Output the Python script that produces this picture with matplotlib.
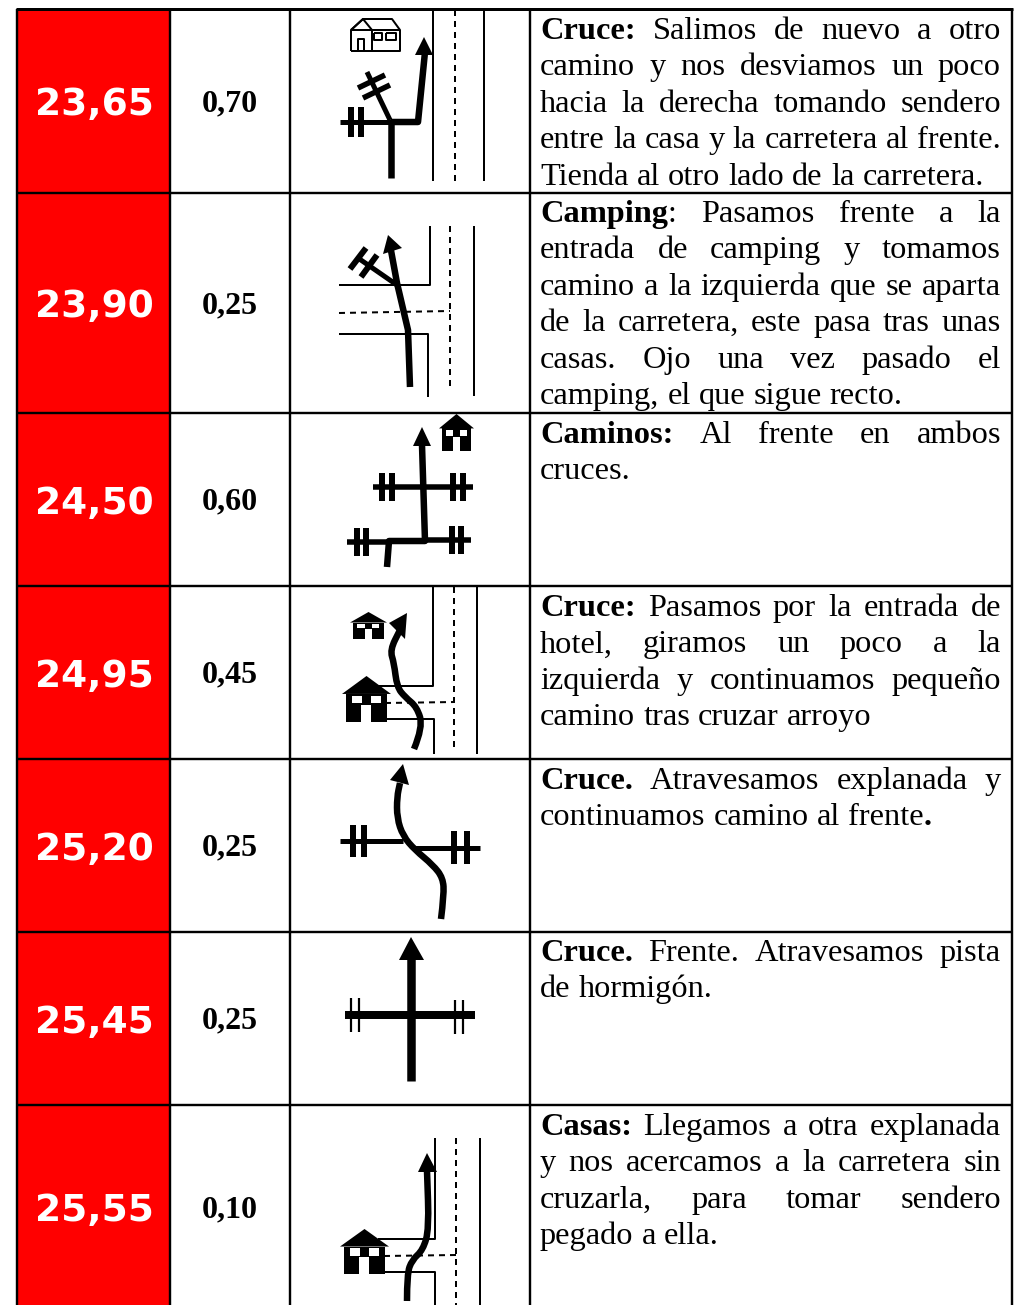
import re
import matplotlib
matplotlib.use("Agg")
import matplotlib.pyplot as plt
from matplotlib.patches import Rectangle, Polygon, PathPatch
from matplotlib.path import Path

# Table contents
km_total = ["23,65", "23,90", "24,50", "24,95", "25,20", "25,45", "25,55"]
km_partial = ["0,70", "0,25", "0,60", "0,45", "0,25", "0,25", "0,10"]

# <...> marks bold text, the last line of each cell is not justified
descriptions = [
    ["<Cruce:> Salimos de nuevo a otro",
     "camino y nos desviamos un poco",
     "hacia la derecha tomando sendero",
     "entre la casa y la carretera al frente.",
     "Tienda al otro lado de la carretera."],
    ["<Camping>: Pasamos frente a la",
     "entrada de camping y tomamos",
     "camino a la izquierda que se aparta",
     "de la carretera, este pasa tras unas",
     "casas. Ojo una vez pasado el",
     "camping, el que sigue recto."],
    ["<Caminos:> Al frente en ambos",
     "cruces."],
    ["<Cruce:> Pasamos por la entrada de",
     "hotel, giramos un poco a la",
     "izquierda y continuamos pequeño",
     "camino tras cruzar arroyo"],
    ["<Cruce.> Atravesamos explanada y",
     "continuamos camino al frente<.>"],
    ["<Cruce.> Frente. Atravesamos pista",
     "de hormigón."],
    ["<Casas:> Llegamos a otra explanada",
     "y nos acercamos a la carretera sin",
     "cruzarla, para tomar sendero",
     "pegado a ella."],
]

# Table grid, in pixels of the picture
col_edges = [17, 170, 290, 530, 1012]
row_edges = [9, 193, 413, 586, 759, 932, 1105, 1305]
first_baselines = [39, 222, 443, 616, 789, 961, 1135]
line_step = 36.4
text_left = 540
text_right = 1001
text_size = 23.3

# Sketches: thin road lines, dashed centre lines, thick route, arrow heads,
# cross streets with their ticks, houses
roads = [
    [(433, 10), (433, 181)], [(484, 10), (484, 181)],
    [(339, 285), (430, 285), (430, 226)], [(339, 334), (428, 334), (428, 397)],
    [(474, 226), (474, 396)],
    [(378, 686), (433, 686), (433, 587)], [(385, 719), (434, 719), (434, 754)],
    [(477, 587), (477, 754)],
    [(378, 1239), (435, 1239), (435, 1138)], [(384, 1272), (435, 1272), (435, 1305)],
    [(480, 1138), (480, 1305)],
]
dashed_roads = [
    [(455, 10), (455, 181)],
    [(339, 313), (450, 311)], [(450, 226), (450, 388)],
    [(385, 703), (455, 702)], [(454, 587), (454, 750)],
    [(384, 1256), (456, 1255)], [(456, 1138), (456, 1305)],
]
routes = [
    ([(391, 178), (391, 119)], 6.5),
    ([(391, 122), (418, 122), (425, 52)], 6.5),
    ([(410, 387), (408, 330), (397, 283), (390, 245)], 6.5),
    ([(387, 567), (389, 541), (425, 541), (422, 445)], 6.5),
    ([(411, 955), (411, 1081)], 8.5),
]
curved_routes = [
    ([(414, 749), (423, 727), (417, 707), (405, 697), (397, 687), (394, 663),
      (390, 650), (400, 630)], 6.5),
    ([(441, 919), (444, 895), (443, 878), (433, 865), (415, 850), (403, 836),
      (397, 818), (397, 797), (400, 783)], 6.5),
    ([(407, 1301), (407, 1274), (412, 1260), (423, 1250), (429, 1229),
      (427, 1171)], 6.5),
]
arrow_heads = [
    [(424, 37), (415, 55), (433, 55)],
    [(388, 235), (383, 254), (402, 248)],
    [(422, 427), (413, 446), (431, 446)],
    [(407, 613), (389, 623), (405, 639)],
    [(403, 764), (390, 780), (409, 785)],
    [(411, 937), (399, 960), (424, 960)],
    [(427, 1153), (418, 1172), (437, 1172)],
]
streets = [
    ([(340, 122), (391, 122)], 5),
    ([(390, 120), (367, 72)], 5),
    ([(358, 88), (385, 75)], 5.5), ([(363, 98), (390, 85)], 5.5),
    ([(350.5, 107), (350.5, 137)], 6), ([(360.5, 107), (360.5, 137)], 6),
    ([(397, 285), (358, 258)], 5),
    ([(366, 248), (350, 269)], 6), ([(377, 255), (361, 277)], 6),
    ([(373, 487), (473, 487)], 5.5),
    ([(382, 473), (382, 501)], 6), ([(392, 473), (392, 501)], 6),
    ([(453, 473), (453, 501)], 6), ([(463, 473), (463, 501)], 6),
    ([(347, 542), (389, 542)], 5.5), ([(425, 540), (471, 540)], 5.5),
    ([(357, 528), (357, 556)], 6), ([(366, 528), (366, 556)], 6),
    ([(452, 526), (452, 554)], 6), ([(461, 526), (461, 554)], 6),
    ([(340, 841), (403, 841)], 5), ([(415, 848), (480, 848)], 5),
    ([(353, 825), (353, 857)], 6), ([(364, 825), (364, 857)], 6),
    ([(454, 831), (454, 864)], 6), ([(467, 831), (467, 864)], 6),
    ([(345, 1015), (475, 1015)], 8),
    ([(351, 998), (351, 1032)], 2.2), ([(359, 998), (359, 1032)], 2.2),
    ([(455, 1000), (455, 1034)], 2.2), ([(463, 1000), (463, 1034)], 2.2),
]
# left, right, top, bottom
filled_houses = [
    (439, 474, 414, 451), (350, 387, 612, 639),
    (342, 391, 676, 722), (340, 389, 1229, 1274),
]


def px(width):
    return width * 0.72


def draw_line(ax, points, width, **kwargs):
    xs = [p[0] for p in points]
    ys = [p[1] for p in points]
    ax.plot(xs, ys, color="black", linewidth=px(width), solid_capstyle="butt",
            solid_joinstyle="round", dash_capstyle="butt", **kwargs)


# Smooth curve through the midpoints of the read points
def draw_curve(ax, points, width):
    verts = [points[0]]
    codes = [Path.MOVETO]
    for a, b in zip(points[1:-1], points[2:]):
        verts += [a, ((a[0] + b[0]) / 2, (a[1] + b[1]) / 2)]
        codes += [Path.CURVE3, Path.CURVE3]
    verts.append(points[-1])
    codes.append(Path.LINETO)
    ax.add_patch(PathPatch(Path(verts, codes), facecolor="none", edgecolor="black",
                           linewidth=px(width), capstyle="butt", zorder=3))


def draw_house(ax, left, right, top, bottom):
    cx = (left + right) / 2
    sx = (right - left) / 2
    sy = bottom - top
    eave = top + 0.39 * sy
    ax.add_patch(Polygon([(left, eave), (cx, top), (right, eave)],
                         facecolor="black", edgecolor="none", zorder=4))
    ax.add_patch(Rectangle((cx - 0.84 * sx, eave), 1.68 * sx, bottom - eave,
                           facecolor="black", edgecolor="none", zorder=4))
    for wx in (-0.61, 0.18):
        ax.add_patch(Rectangle((cx + wx * sx, top + 0.43 * sy), 0.41 * sx, 0.16 * sy,
                               facecolor="white", edgecolor="none", zorder=5))
    ax.add_patch(Rectangle((cx - 0.21 * sx, top + 0.63 * sy), 0.41 * sx, 0.37 * sy,
                           facecolor="white", edgecolor="none", zorder=5))


# The outlined house of the first row
def draw_outline_house(ax):
    shapes = [
        [(351, 51), (351, 30), (363, 19), (392, 19), (400, 30), (400, 51), (351, 51)],
        [(351, 30), (363, 19), (372, 30), (351, 30)],
        [(372, 30), (400, 30)], [(372, 30), (372, 51)],
        [(358, 51), (358, 39), (364, 39), (364, 51)],
        [(374, 33), (382, 33), (382, 40), (374, 40), (374, 33)],
        [(386, 33), (396, 33), (396, 40), (386, 40), (386, 33)],
    ]
    for shape in shapes:
        draw_line(ax, shape, 2, zorder=4)


def draw_line_text(ax, renderer, line, baseline, justify):
    words = []
    for word in line.split(" "):
        parts = []
        for piece in re.split(r"(<[^>]*>)", word):
            if piece.startswith("<"):
                parts.append((piece[1:-1], "bold"))
            elif piece:
                parts.append((piece, "normal"))
        words.append(parts)
    # measure first, then place word by word so the line can be justified
    widths = []
    for parts in words:
        total = 0
        for text, weight in parts:
            t = ax.text(0, 0, text, fontsize=text_size, fontweight=weight,
                        family="Liberation Serif")
            total += t.get_window_extent(renderer).width
            t.remove()
        widths.append(total)
    gap = text_size / 0.72 * 0.25
    if justify and len(words) > 1:
        gap = (text_right - text_left - sum(widths)) / (len(words) - 1)
    x = text_left
    for parts, width in zip(words, widths):
        px_x = x
        for text, weight in parts:
            t = ax.text(px_x, baseline, text, fontsize=text_size, fontweight=weight,
                        family="Liberation Serif", ha="left", va="baseline", color="black")
            px_x += t.get_window_extent(renderer).width
        x += width + gap


def main():
    fig = plt.figure(figsize=(10.25, 13.05), dpi=100)
    ax = fig.add_axes([0, 0, 1, 1])
    ax.set_xlim(0, 1025)
    ax.set_ylim(1305, 0)
    ax.axis("off")
    renderer = fig.canvas.get_renderer()

    ax.add_patch(Rectangle((col_edges[0], row_edges[0]), col_edges[1] - col_edges[0],
                           row_edges[-1] - row_edges[0], facecolor="#ff0000", edgecolor="none"))
    for x in col_edges:
        ax.plot([x, x], [row_edges[0], row_edges[-1]], color="black", linewidth=px(2.4),
                solid_capstyle="butt", zorder=6)
    for i, y in enumerate(row_edges[:-1]):
        ax.plot([col_edges[0] - 1, col_edges[-1] + 1], [y, y], color="black",
                linewidth=px(3 if i == 0 else 2.4), solid_capstyle="butt", zorder=6)

    for i in range(len(km_total)):
        mid = (row_edges[i] + row_edges[i + 1]) / 2
        if i == 6:
            mid = 1207
        ax.text(94, mid + 0.5, km_total[i], color="white", fontsize=27, fontweight="bold",
                family="DejaVu Sans", ha="center", va="center_baseline")
        ax.text(230, mid - 1, km_partial[i], color="black", fontsize=23, fontweight="bold",
                family="Liberation Serif", ha="center", va="center_baseline")
        lines = descriptions[i]
        for j, line in enumerate(lines):
            draw_line_text(ax, renderer, line, first_baselines[i] + j * line_step,
                           j < len(lines) - 1)

    for road in roads:
        draw_line(ax, road, 2, zorder=2)
    for road in dashed_roads:
        draw_line(ax, road, 2, linestyle=(0, (3, 2.5)), zorder=2)
    for street, width in streets:
        draw_line(ax, street, width, zorder=3)
    for route, width in routes:
        draw_line(ax, route, width, zorder=3)
    for route, width in curved_routes:
        draw_curve(ax, route, width)
    for head in arrow_heads:
        ax.add_patch(Polygon(head, facecolor="black", edgecolor="none", zorder=3))
    for left, right, top, bottom in filled_houses:
        draw_house(ax, left, right, top, bottom)
    draw_outline_house(ax)

    fig.savefig("out.png", dpi=100, facecolor="white")


if __name__ == "__main__":
    main()
